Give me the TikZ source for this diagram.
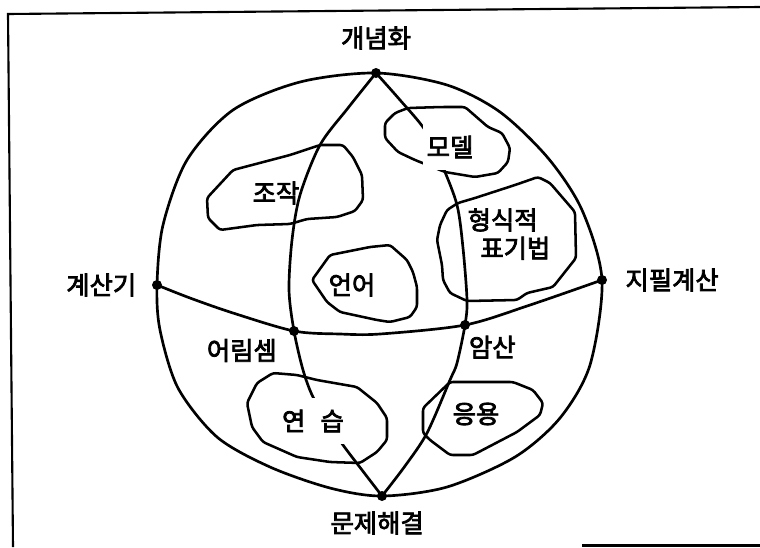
\documentclass[tikz,border=0pt]{standalone}
\usepackage{fontspec}
\usepackage{tikz}
\usetikzlibrary{positioning}
\newfontfamily\kr{Noto Sans CJK KR}[FakeBold=3]
\tikzstyle{dot} = [circle, fill=black, inner sep=0pt, minimum size=0.25cm]
\tikzstyle{lbl} = [font=\kr\fontsize{18}{20}\selectfont, inner sep=0pt]
\tikzstyle{cover} = [lbl, fill=white, inner xsep=3pt, inner ysep=0.3cm]
\tikzstyle{region} = [draw, line width=1.8pt, rounded corners=2pt, line join=round]
\tikzstyle{line} = [draw, line width=1.9pt]

\begin{document}
\begin{tikzpicture}[x=0.025cm, y=-0.025cm]
    \useasboundingbox (0,0) rectangle (760,547);
    % Frame
    \draw[line width=1.5pt] (760,7) -- (8,14) -- (13,547);
    \draw[line width=1.5pt] (582,545.5) -- (760,545.5);
    % Place nodes
    \node[dot] (top) at (376,73) {};
    \node[dot] (bottom) at (382,496) {};
    \node[dot] (west) at (157,285) {};
    \node[dot] (east) at (602,280) {};
    \node[dot] (estim) at (294,331) {};
    \node[dot] (mental) at (465,325) {};
    % Draw edges
    \path[line] plot[smooth cycle] coordinates {(top.center) (447,85) (500,112) (548,158)
        (582,210) (east.center) (590,365) (560,418) (515,457) (447,487) (bottom.center)
        (330,488) (270,467) (217,437) (178,388) (160,330) (west.center) (163,225) (187,160)
        (233,110) (300,82)};
    \path[line] plot[smooth] coordinates {(top.center) (348,108) (320,145) (300,195) (292,240)
        (289,290) (estim.center) (303,370) (313,397) (330,425) (343,445) (362,470) (bottom.center)};
    \path[line] plot[smooth] coordinates {(top.center) (400,100) (425,130) (442,165) (457,205)
        (463,248) (467,300) (mental.center) (457,363) (450,380) (427,433) (405,466) (bottom.center)};
    \path[line] plot[smooth] coordinates {(west.center) (190,298) (233,313) (estim.center)
        (340,334) (380,334) (mental.center) (530,305) (east.center)};
    % Regions
    \path[region] (207,198) -- (233,170) -- (290,155) -- (320,145) -- (343,145) -- (353,157)
        -- (362,175) -- (363,200) -- (355,211) -- (337,217) -- (307,219) -- (290,224)
        -- (257,225) -- (220,230) -- (208,218) -- cycle;
    \path[region] (385,123) -- (395,113) -- (408,108) -- (442,107) -- (465,107) -- (488,127)
        -- (502,133) -- (510,148) -- (508,162) -- (498,173) -- (475,177) -- (445,172)
        -- (415,160) -- (398,152) -- (385,138) -- cycle;
    \path[region] (447,210) -- (458,203) -- (475,198) -- (515,185) -- (538,177) -- (550,183)
        -- (575,212) -- (576,258) -- (553,287) -- (527,293) -- (517,300) -- (467,301)
        -- (450,293) -- (443,280) -- (442,265) -- (437,240) -- (440,225) -- cycle;
    \path[region] (312,280) -- (330,255) -- (370,247) -- (390,245) -- (407,260) -- (413,272)
        -- (417,287) -- (417,307) -- (410,317) -- (390,322) -- (377,320) -- (340,312)
        -- (327,302) -- cycle;
    \path[region] (247,403) -- (257,383) -- (273,373) -- (297,375) -- (317,380) -- (357,387)
        -- (377,403) -- (387,418) -- (387,440) -- (377,452) -- (360,463) -- (330,462)
        -- (297,457) -- (263,442) -- (252,427) -- cycle;
    \path[region] (423,408) -- (450,382) -- (513,382) -- (533,390) -- (543,403) -- (540,415)
        -- (517,432) -- (473,455) -- (450,455) -- (430,440) -- (423,433) -- cycle;
    % Labels
    \node[lbl, above=0.45cm of top] (concept) {개념화};
    \node[lbl, below=0.25cm of bottom, xshift=-0.12cm] (solve) {문제해결};
    \node[lbl, left=0.38cm of west] (calc) {계산기};
    \node[lbl, right=0.45cm of east] (paper) {지필계산};
    \node[lbl, below left=0.1cm and 0.33cm of estim] (estimlbl) {어림셈};
    \node[lbl, below right=0.17cm and 0cm of mental] (mentallbl) {암산};
    \node[lbl] (manip) at (276,193) {조작};
    \node[cover] (model) at (450,147) {모델};
    \node[lbl, align=left] (formal) at (509,234) {형식적\\\hspace*{0.5em}표기법};
    \node[lbl] (lang) at (352,285) {언어};
    \node[cover] (drill) at (313,421) {연\hspace{0.6em}습};
    \node[lbl] (appl) at (476,414) {응용};
\end{tikzpicture}
\end{document}
